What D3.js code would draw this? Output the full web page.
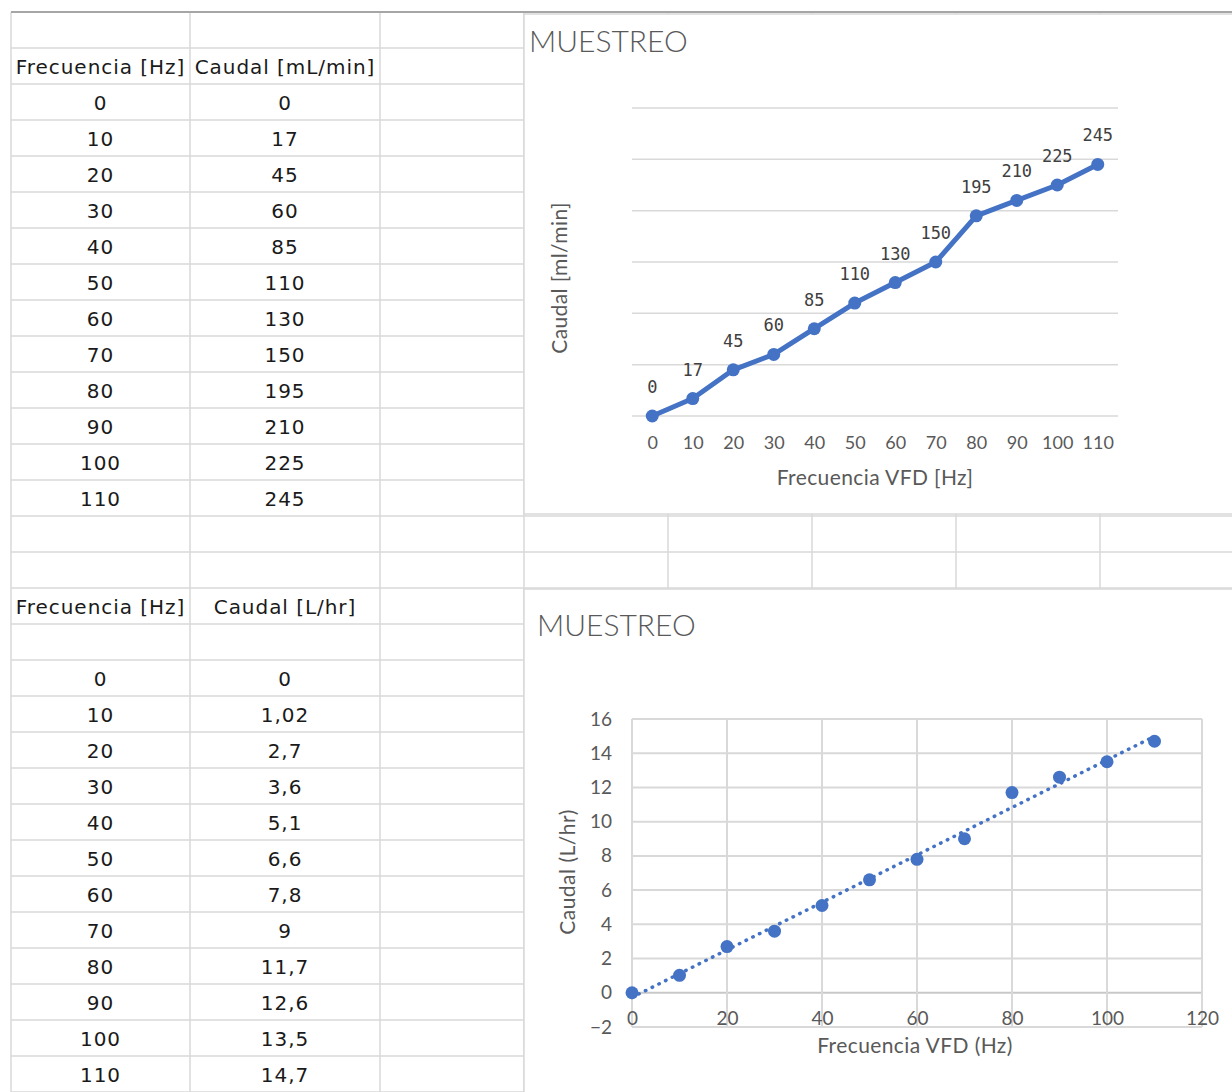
<!DOCTYPE html>
<html>
<head>
<meta charset="utf-8">
<script src="https://cdn.jsdelivr.net/npm/d3@7"></script>
<style>
html,body{margin:0;padding:0;background:#fff;}
svg{display:block;}
</style>
</head>
<body>
<svg id="sheet" width="1232" height="1092"></svg>
<script>
// ---- data ----
const frecuencia = [0, 10, 20, 30, 40, 50, 60, 70, 80, 90, 100, 110];
const caudalMlMin = [0, 17, 45, 60, 85, 110, 130, 150, 195, 210, 225, 245];
const caudalLhr = [0, 1.02, 2.7, 3.6, 5.1, 6.6, 7.8, 9, 11.7, 12.6, 13.5, 14.7];
const headers1 = ["Frecuencia [Hz]", "Caudal [mL/min]"];
const headers2 = ["Frecuencia [Hz]", "Caudal [L/hr]"];
const chartTitle = "MUESTREO";
const xTitle1 = "Frecuencia VFD [Hz]";
const yTitle1 = "Caudal [ml/min]";
const xTitle2 = "Frecuencia VFD (Hz)";
const yTitle2 = "Caudal (L/hr)";
const yTicks1 = [0, 50, 100, 150, 200, 250, 300];
const xTicks2 = [0, 20, 40, 60, 80, 100, 120];
const yTicks2 = [-2, 0, 2, 4, 6, 8, 10, 12, 14, 16];

const svg = d3.select("#sheet");
const BLUE = "#4472C4";
const GRID = "#d9d9d9";
const TXT = "#595959";
const tableFont = "'DejaVu Sans', Verdana, sans-serif";
const chartFont = "Lato, 'Open Sans', sans-serif";

svg.append("rect").attr("width", 1232).attr("height", 1092).attr("fill", "#fff");

// ---- spreadsheet grid ----
const colX = [11, 190, 380, 524, 668, 812, 956, 1100, 1244];
const rowTop = 12, rowH = 36;
const g = svg.append("g");
for (let y = rowTop + rowH; y <= 1092; y += rowH) {
  g.append("line").attr("x1", colX[0]).attr("x2", 1232).attr("y1", y).attr("y2", y)
    .attr("stroke", GRID).attr("stroke-width", 1.5);
}
colX.forEach(x => {
  g.append("line").attr("x1", x).attr("x2", x).attr("y1", rowTop).attr("y2", 1092)
    .attr("stroke", GRID).attr("stroke-width", 1.5);
});
g.append("line").attr("x1", colX[0]).attr("x2", 1232).attr("y1", rowTop).attr("y2", rowTop)
  .attr("stroke", "#a6a6a6").attr("stroke-width", 2);

// ---- tables ----
const colCenter = [(colX[0] + colX[1]) / 2, (colX[1] + colX[2]) / 2];
function cellText(txt, col, row) {
  svg.append("text").attr("x", colCenter[col]).attr("y", rowTop + row * rowH + rowH / 2 + 1)
    .attr("text-anchor", "middle").attr("dominant-baseline", "central")
    .attr("font-family", tableFont).attr("font-size", 20).attr("letter-spacing", 0.95)
    .attr("fill", "#1a1a1a").text(txt);
}
headers1.forEach((h, i) => cellText(h, i, 1));
frecuencia.forEach((f, i) => { cellText(String(f), 0, 2 + i); cellText(String(caudalMlMin[i]), 1, 2 + i); });
headers2.forEach((h, i) => cellText(h, i, 16));
frecuencia.forEach((f, i) => {
  cellText(String(f), 0, 18 + i);
  cellText(String(caudalLhr[i]).replace(".", ","), 1, 18 + i);
});

// ---- chart 1 ----
const c1 = svg.append("g");
c1.append("rect").attr("x", 524).attr("y", 14).attr("width", 720).attr("height", 500)
  .attr("fill", "#fff").attr("stroke", GRID).attr("stroke-width", 1.5);
c1.append("text").attr("x", 529).attr("y", 52).attr("font-family", chartFont)
  .attr("font-weight", 300).attr("font-size", 30).attr("fill", TXT).text(chartTitle);

const x1 = d3.scalePoint().domain(frecuencia).range([632, 1118]).padding(0.5);
const y1 = d3.scaleLinear().domain([0, 300]).range([416, 108]);

c1.append("g").selectAll("line").data(yTicks1).join("line")
  .attr("x1", 632).attr("x2", 1118).attr("y1", d => y1(d)).attr("y2", d => y1(d))
  .attr("stroke", GRID).attr("stroke-width", 1.5);

const ax1 = c1.append("g").attr("transform", "translate(0,416)")
  .call(d3.axisBottom(x1).tickSize(0).tickPadding(20));
ax1.select(".domain").remove();
ax1.selectAll("text").attr("font-family", chartFont).attr("font-size", 18).attr("fill", TXT);

c1.append("text").attr("x", 875).attr("y", 485).attr("text-anchor", "middle")
  .attr("font-family", chartFont).attr("font-size", 21).attr("letter-spacing", 0.4)
  .attr("fill", TXT).text(xTitle1);
c1.append("text").attr("transform", "translate(567,278) rotate(-90)").attr("text-anchor", "middle")
  .attr("font-family", chartFont).attr("font-size", 21).attr("letter-spacing", 0.4)
  .attr("fill", TXT).text(yTitle1);

const pts1 = frecuencia.map((f, i) => ({ f, v: caudalMlMin[i] }));
c1.append("path").datum(pts1)
  .attr("d", d3.line().x(d => x1(d.f)).y(d => y1(d.v)))
  .attr("fill", "none").attr("stroke", BLUE).attr("stroke-width", 5)
  .attr("stroke-linejoin", "round").attr("stroke-linecap", "round");
c1.append("g").selectAll("circle").data(pts1).join("circle")
  .attr("cx", d => x1(d.f)).attr("cy", d => y1(d.v)).attr("r", 6.5).attr("fill", BLUE);
c1.append("g").selectAll("text").data(pts1).join("text")
  .attr("x", d => x1(d.f)).attr("y", d => y1(d.v) - 23).attr("text-anchor", "middle")
  .attr("font-family", "'DejaVu Sans Mono', monospace").attr("font-size", 17)
  .attr("fill", "#404040").text(d => d.v);

// ---- chart 2 ----
const c2 = svg.append("g");
c2.append("rect").attr("x", 524).attr("y", 589).attr("width", 720).attr("height", 520)
  .attr("fill", "#fff").attr("stroke", GRID).attr("stroke-width", 1.5);
c2.append("text").attr("x", 537).attr("y", 636).attr("font-family", chartFont)
  .attr("font-weight", 300).attr("font-size", 30).attr("fill", TXT).text(chartTitle);

const x2 = d3.scaleLinear().domain([0, 120]).range([632, 1202]);
const y2 = d3.scaleLinear().domain([-2, 16]).range([1027, 719]);

c2.append("g").selectAll("line").data(yTicks2).join("line")
  .attr("x1", x2(0)).attr("x2", x2(120)).attr("y1", d => y2(d)).attr("y2", d => y2(d))
  .attr("stroke", d => d === 0 ? "#c8c8c8" : GRID).attr("stroke-width", 2);
c2.append("g").selectAll("line").data(xTicks2).join("line")
  .attr("x1", d => x2(d)).attr("x2", d => x2(d)).attr("y1", y2(16)).attr("y2", y2(-2))
  .attr("stroke", GRID).attr("stroke-width", 2);

const ay2 = c2.append("g").attr("transform", `translate(${x2(0)},0)`)
  .call(d3.axisLeft(y2).tickValues(yTicks2).tickSize(0).tickPadding(20));
ay2.select(".domain").remove();
ay2.selectAll("text").attr("font-family", chartFont).attr("font-size", 19).attr("fill", TXT);

const ax2 = c2.append("g").attr("transform", `translate(0,${y2(0)})`)
  .call(d3.axisBottom(x2).tickValues(xTicks2).tickSize(0).tickPadding(19));
ax2.select(".domain").remove();
ax2.selectAll("text").attr("font-family", chartFont).attr("font-size", 19).attr("fill", TXT);

c2.append("text").attr("x", 915).attr("y", 1053).attr("text-anchor", "middle")
  .attr("font-family", chartFont).attr("font-size", 21).attr("letter-spacing", 0.4)
  .attr("fill", TXT).text(xTitle2);
c2.append("text").attr("transform", "translate(575,872) rotate(-90)").attr("text-anchor", "middle")
  .attr("font-family", chartFont).attr("font-size", 21).attr("letter-spacing", 0.5)
  .attr("fill", TXT).text(yTitle2);

// linear trendline (least squares) from the data
const mx = d3.mean(frecuencia), my = d3.mean(caudalLhr);
let sxy = 0, sxx = 0;
frecuencia.forEach((f, i) => { sxy += (f - mx) * (caudalLhr[i] - my); sxx += (f - mx) * (f - mx); });
const slope = sxy / sxx, intercept = my - slope * mx;
const xExt = d3.extent(frecuencia);
c2.append("line")
  .attr("x1", x2(xExt[0])).attr("y1", y2(intercept + slope * xExt[0]))
  .attr("x2", x2(xExt[1])).attr("y2", y2(intercept + slope * xExt[1]))
  .attr("stroke", BLUE).attr("stroke-width", 3.5).attr("stroke-linecap", "round")
  .attr("stroke-dasharray", "0.5 7");

c2.append("g").selectAll("circle").data(frecuencia).join("circle")
  .attr("cx", d => x2(d)).attr("cy", (d, i) => y2(caudalLhr[i])).attr("r", 6.5).attr("fill", BLUE);
</script>
</body>
</html>
